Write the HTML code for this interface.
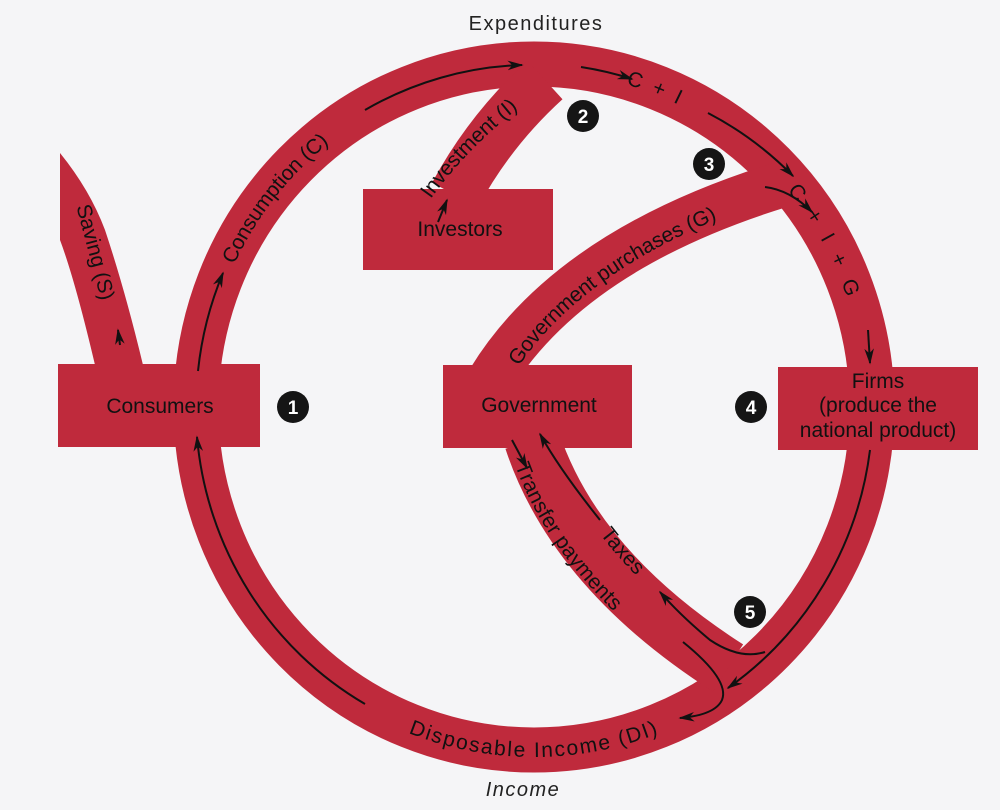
<!DOCTYPE html>
<html><head><meta charset="utf-8"><style>
html,body{margin:0;padding:0;background:#f5f5f7;}
svg{display:block;}
text{font-family:"Liberation Sans",sans-serif;}
</style></head><body>
<svg width="1000" height="810" viewBox="0 0 1000 810" xmlns="http://www.w3.org/2000/svg">
<defs>
<marker id="ah2" viewBox="0 0 10 10" refX="9" refY="5" markerWidth="16" markerHeight="16" orient="auto" markerUnits="userSpaceOnUse">
<path d="M0,2 L10,5 L0,8 L3,5 Z" fill="#111"/></marker>
<path id="cw" d="M196,407 A338,343 0 1 1 872,407 A338,343 0 1 1 196,407"/>
<path id="ccw" d="M196,407 A338,343 0 0 0 872,407"/>
<path id="sav" d="M82,205 Q100,270 118,345"/>
<path id="inv" d="M425,195 Q475,125 560,70"/>
<path id="gov" d="M505,375 Q580,250 800,182"/>
<path id="tax" d="M553,440 Q595,560 742,655"/>
<path id="tra" d="M520,455 Q561,578 712,680"/>
</defs>
<g fill="#bf2a3c">
<ellipse cx="534" cy="407" rx="338" ry="343" fill="none" stroke="#bf2a3c" stroke-width="45"/>
<path d="M455,195 Q490,130 545,80" fill="none" stroke="#bf2a3c" stroke-width="52"/>
<path d="M490,380 Q570,250 780,185" fill="none" stroke="#bf2a3c" stroke-width="46"/>
<path d="M532,440 Q575,570 728,668" fill="none" stroke="#bf2a3c" stroke-width="56"/>
<path d="M95,365 Q75,280 60,240 L60,153 Q90,190 105,230 Q125,290 143,365 Z"/>
<rect x="58" y="364" width="202" height="83"/>
<rect x="363" y="189" width="190" height="81"/>
<rect x="443" y="365" width="189" height="83"/>
<rect x="778" y="367" width="200" height="83"/>
</g>
<g fill="none" stroke="#111" stroke-width="2">
<path d="M365,704 A338,343 0 0 1 197,437" marker-end="url(#ah2)"/>
<path d="M198,371 A338,343 0 0 1 223,273" marker-end="url(#ah2)"/>
<path d="M365,110 A338,343 0 0 1 522,65" marker-end="url(#ah2)"/>
<path d="M581,67 A338,343 0 0 1 632,79" marker-end="url(#ah2)"/>
<path d="M708,113 A338,343 0 0 1 793,176" marker-end="url(#ah2)"/>
<path d="M765,187 Q790,190 812,212" marker-end="url(#ah2)"/>
<path d="M868,330 L870,363" marker-end="url(#ah2)"/>
<path d="M120,345 L118,330" marker-end="url(#ah2)"/>
<path d="M438,222 L447,200" marker-end="url(#ah2)"/>
<path d="M870,450 A338,343 0 0 1 728,688" marker-end="url(#ah2)"/>
<path d="M765,652 Q740,660 710,640 Q680,615 660,592" marker-end="url(#ah2)"/>
<path d="M600,520 Q560,470 540,434" marker-end="url(#ah2)"/>
<path d="M512,440 L527,468" marker-end="url(#ah2)"/>
<path d="M683,642 Q730,680 722,700 Q715,715 680,718" marker-end="url(#ah2)"/>
</g>
<g font-size="21" fill="#111">
<text><textPath href="#cw" startOffset="150"><tspan dy="7">Consumption (C)</tspan></textPath></text>
<text letter-spacing="3"><textPath href="#cw" startOffset="630"><tspan dy="7">C + I</tspan></textPath></text>
<text letter-spacing="5"><textPath href="#cw" startOffset="830"><tspan dy="7">C + I + G</tspan></textPath></text>
<text letter-spacing="1.5"><textPath href="#ccw" startOffset="50%" text-anchor="middle"><tspan dy="7">Disposable Income (DI)</tspan></textPath></text>
<text><textPath href="#sav" startOffset="0"><tspan dy="6">Saving (S)</tspan></textPath></text>
<text><textPath href="#inv" startOffset="0"><tspan dy="7">Investment (I)</tspan></textPath></text>
<text><textPath href="#gov" startOffset="15"><tspan dy="7">Government purchases (G)</tspan></textPath></text>
<text><textPath href="#tax" startOffset="36%"><tspan dy="4">Taxes</tspan></textPath></text>
<text><textPath href="#tra" startOffset="8"><tspan dy="8">Transfer payments</tspan></textPath></text>
<text x="160" y="413" text-anchor="middle">Consumers</text>
<text x="460" y="236" text-anchor="middle">Investors</text>
<text x="539" y="412" text-anchor="middle">Government</text>
<text x="878" y="388" text-anchor="middle">Firms</text>
<text x="878" y="412" text-anchor="middle">(produce the</text>
<text x="878" y="437" text-anchor="middle">national product)</text>
</g>
<text x="536" y="30" font-size="20" fill="#222" text-anchor="middle" letter-spacing="1.5">Expenditures</text>
<text x="523" y="796" font-size="20" fill="#222" text-anchor="middle" font-style="italic" letter-spacing="1.5">Income</text>
<g font-size="19" font-weight="bold" fill="#fff" text-anchor="middle">
<circle cx="293" cy="407" r="16" fill="#151515"/><text x="293" y="414">1</text>
<circle cx="583" cy="116" r="16" fill="#151515"/><text x="583" y="123">2</text>
<circle cx="709" cy="164" r="16" fill="#151515"/><text x="709" y="171">3</text>
<circle cx="751" cy="407" r="16" fill="#151515"/><text x="751" y="414">4</text>
<circle cx="750" cy="612" r="16" fill="#151515"/><text x="750" y="619">5</text>
</g>
</svg>
</body></html>
